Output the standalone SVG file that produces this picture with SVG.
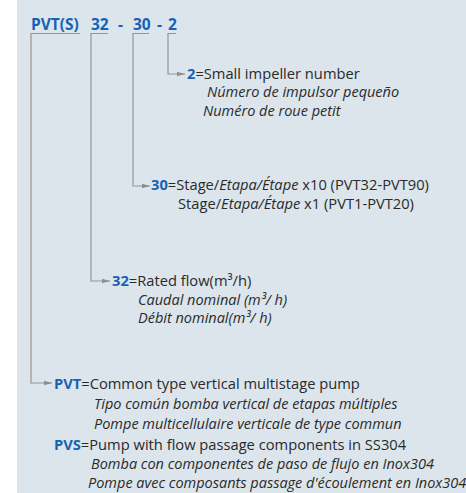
<svg xmlns="http://www.w3.org/2000/svg" width="466" height="493" viewBox="0 0 466 493">
<defs>
<marker id="ah" viewBox="0 0 8 6" refX="8" refY="3" markerWidth="8" markerHeight="6" markerUnits="userSpaceOnUse" orient="auto">
<path d="M0,0.8 L8,3 L0,5.2 Z" fill="#8e8e8e"/>
</marker>
<style>
.t{font-family:"Open Sans","Liberation Sans",Arial,sans-serif;font-size:14.7px;fill:#2a2a2a}
.i{font-style:italic}
.ti{font-size:14.5px}
.b{font-weight:bold;fill:#1663b4}
.h{font-size:15.5px}
.ln{fill:none;stroke:#959595;stroke-width:1.2}
.ar{marker-end:url(#ah)}
</style>
</defs>
<rect x="0" y="0" width="466" height="493" fill="#ffffff"/>
<rect x="17" y="0" width="449" height="493" fill="#dce5ec"/>
<g id="title">
<text class="t b h" x="31" y="30">PVT(S)</text>
<text class="t b h" x="91" y="30">32</text>
<text class="t b h" x="118" y="30">-</text>
<text class="t b h" x="133" y="30">30</text>
<text class="t b h" x="157" y="30">-</text>
<text class="t b h" x="168" y="30">2</text>
</g>
<g id="connectors">
<path class="ln ar" d="M80,33.5 H31 V383 H52"/>
<path class="ln ar" d="M108,33.5 H91 V281 H110"/>
<path class="ln ar" d="M149,33.5 H133 V186 H150"/>
<path class="ln ar" d="M176,33.5 H168 V74 H185"/>
</g>
<g id="node-2">
<text class="t" x="187" y="79"><tspan class="b">2</tspan>=Small impeller number</text>
<text class="t i ti" x="207" y="97">Número de impulsor pequeño</text>
<text class="t i ti" x="203" y="116">Numéro de roue petit</text>
</g>
<g id="node-30">
<text class="t" x="151" y="190"><tspan class="b">30</tspan>=Stage/<tspan class="i">Etapa/Étape</tspan> x10 (PVT32-PVT90)</text>
<text class="t" x="178" y="209">Stage/<tspan class="i">Etapa/Étape</tspan> x1 (PVT1-PVT20)</text>
</g>
<g id="node-32">
<text class="t" x="112" y="286"><tspan class="b">32</tspan>=Rated flow(m³/h)</text>
<text class="t i ti" x="138" y="305">Caudal nominal (m³/ h)</text>
<text class="t i ti" x="138" y="323">Débit nominal(m³/ h)</text>
</g>
<g id="node-pvt">
<text class="t" x="54" y="389"><tspan class="b">PVT</tspan>=Common type vertical multistage pump</text>
<text class="t i ti" x="94" y="409">Tipo común bomba vertical de etapas múltiples</text>
<text class="t i ti" x="94" y="429">Pompe multicellulaire verticale de type commun</text>
</g>
<g id="node-pvs">
<text class="t" x="54" y="450"><tspan class="b">PVS</tspan>=Pump with flow passage components in SS304</text>
<text class="t i ti" x="91" y="469">Bomba con componentes de paso de flujo en Inox304</text>
<text class="t i ti" x="88" y="488">Pompe avec composants passage d'écoulement en Inox304</text>
</g>
</svg>
